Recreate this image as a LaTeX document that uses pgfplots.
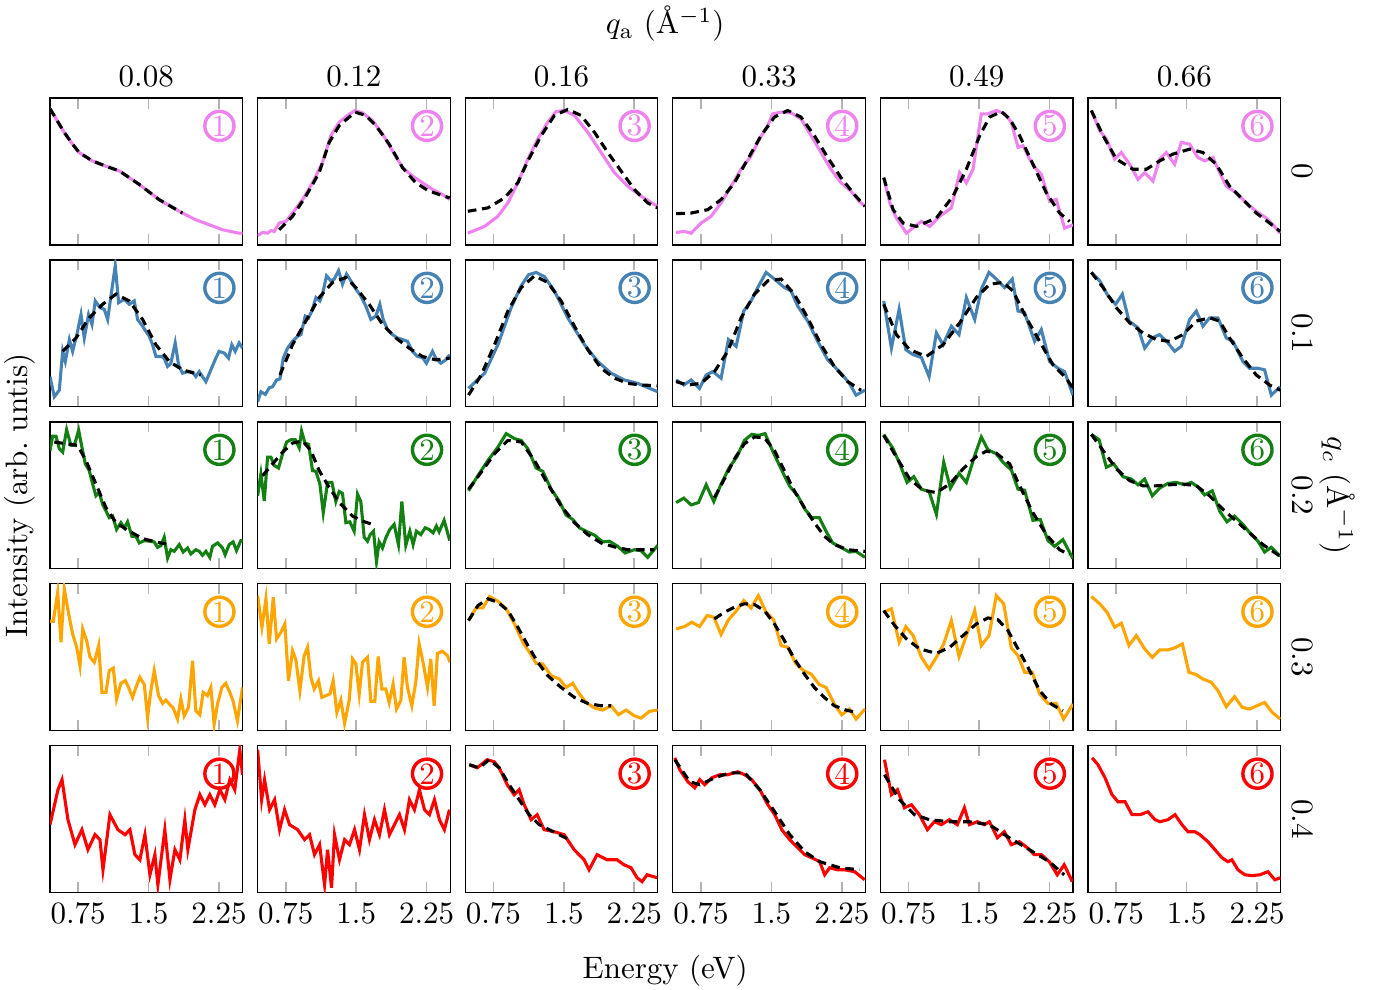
\documentclass[border=0pt]{standalone}
\usepackage{pgfplots}
\pgfplotsset{compat=1.18}
\usepgfplotslibrary{groupplots}
\definecolor{cvio}{RGB}{238,130,238}
\definecolor{cblu}{RGB}{70,130,180}
\definecolor{cgrn}{RGB}{20,128,20}
\definecolor{corg}{RGB}{255,165,0}
\definecolor{cred}{RGB}{255,0,0}
\pgfplotsset{
  dat/.style={line width=1pt},
  fitl/.style={black,line width=1pt,dash pattern=on 2.8pt off 1.8pt},
}
\newcommand{\cnum}[2]{\node[circle,draw=#1,text=#1,line width=1.1pt,minimum size=9.4pt,inner sep=0pt] at (rel axis cs:0.88,0.81) {#2};}
\begin{document}
\begin{tikzpicture}
\begin{groupplot}[
  group style={group size=6 by 5, horizontal sep=4.87pt, vertical sep=4.84pt,
    xticklabels at=edge bottom},
  scale only axis,
  width=62.1pt, height=47.4pt,
  xmin=0.45, xmax=2.5, ymin=0, ymax=100,
  xtick={0.75,1.5,2.25}, ytick=\empty,
  major tick length=3.4pt,
  tick style={gray!60,line width=0.5pt},
  axis line style={black},
  clip mode=individual,
]
% ---- row 1: q_c = 0
\nextgroupplot
\addplot[dat,cvio] coordinates {(0.45,92.7)(0.60,76.7)(0.69,68.6)(0.76,62.9)(0.90,57.2)(1.05,53.5)(1.19,50.3)(1.40,41.2)(1.61,30.9)(1.86,21.7)(2.00,17.2)(2.29,10.3)(2.46,8.0)(2.50,8.0)};
\addplot[fitl] coordinates {(0.45,92.7)(0.60,76.7)(0.69,68.6)(0.76,62.9)(0.90,57.2)(1.05,53.5)(1.19,50.3)(1.40,41.2)(1.61,30.9)(1.86,21.7)};
\cnum{cvio}{1}
\nextgroupplot
\addplot[dat,cvio] coordinates {(0.45,6.4)(0.503,8.5)(0.556,8.0)(0.592,9.8)(0.627,9.2)(0.68,14.9)(0.751,16.0)(0.822,21.7)(0.929,30.9)(1.035,42.3)(1.141,56.1)(1.23,74.4)(1.319,83.5)(1.407,88.1)(1.489,91.5)(1.567,89.9)(1.673,84.7)(1.78,75.5)(1.886,64.1)(1.993,52.6)(2.099,46.9)(2.205,42.3)(2.312,37.8)(2.418,34.3)(2.496,30.9)};
\addplot[fitl] coordinates {(0.68,10.3)(0.822,19.5)(0.964,33.2)(1.106,49.2)(1.212,69.8)(1.319,81.2)(1.489,90.4)(1.602,88.1)(1.709,81.2)(1.851,68.6)(1.993,52.6)(2.134,42.3)(2.276,36.6)(2.496,32.0)};
\cnum{cvio}{2}
\nextgroupplot
\addplot[dat,cvio] coordinates {(0.478,8.0)(0.656,12.6)(0.798,19.5)(0.904,28.6)(1.01,42.3)(1.117,58.4)(1.223,72.1)(1.329,83.5)(1.418,90.8)(1.507,91.5)(1.613,88.1)(1.755,76.7)(1.897,62.9)(2.039,49.2)(2.18,40.0)(2.322,33.2)(2.464,27.5)(2.5,26.3)};
\addplot[fitl] coordinates {(0.478,22.9)(0.691,25.2)(0.868,32.0)(1.01,42.3)(1.117,57.2)(1.259,74.4)(1.40,88.1)(1.542,92.2)(1.684,88.1)(1.826,76.7)(1.968,62.9)(2.11,50.3)(2.251,37.8)(2.393,28.6)(2.5,25.2)};
\cnum{cvio}{3}
\nextgroupplot
\addplot[dat,cvio] coordinates {(0.485,8.5)(0.574,9.2)(0.645,8.0)(0.751,14.9)(0.858,19.5)(0.964,28.6)(1.071,40.0)(1.177,51.5)(1.283,60.6)(1.372,72.1)(1.461,81.2)(1.514,89.2)(1.603,90.4)(1.709,89.9)(1.815,85.8)(1.922,74.4)(2.028,62.9)(2.134,51.5)(2.241,42.3)(2.347,36.6)(2.436,29.7)(2.496,26.3)};
\addplot[fitl] coordinates {(0.485,21.3)(0.645,21.7)(0.822,24.0)(0.964,30.9)(1.106,42.3)(1.248,58.4)(1.39,74.4)(1.532,87.0)(1.673,91.5)(1.815,87.0)(1.957,74.4)(2.099,59.5)(2.241,45.8)(2.383,34.3)(2.496,26.3)};
\cnum{cvio}{4}
\nextgroupplot
\addplot[dat,cvio] coordinates {(0.485,45.8)(0.549,28.6)(0.62,18.3)(0.727,8.0)(0.815,12.6)(0.886,16.0)(0.975,12.6)(1.081,19.5)(1.205,25.2)(1.294,49.2)(1.365,42.3)(1.436,51.5)(1.524,89.2)(1.595,89.2)(1.684,91.5)(1.773,89.2)(1.844,83.5)(1.915,66.4)(1.968,67.5)(2.039,58.4)(2.11,51.5)(2.163,48.1)(2.251,29.7)(2.322,30.9)(2.411,11.4)(2.5,13.7)};
\addplot[fitl] coordinates {(0.485,45.8)(0.585,24.0)(0.691,14.9)(0.833,12.6)(1.046,18.3)(1.223,33.2)(1.365,51.5)(1.507,74.4)(1.613,87.0)(1.737,90.8)(1.826,85.8)(1.932,74.4)(2.074,54.9)(2.216,35.5)(2.358,21.7)(2.464,16.0)};
\cnum{cvio}{5}
\nextgroupplot
\addplot[dat,cvio] coordinates {(0.485,91.5)(0.574,77.8)(0.645,72.1)(0.733,58.4)(0.804,62.9)(0.893,54.9)(0.982,44.6)(1.053,49.2)(1.141,43.5)(1.212,58.4)(1.283,62.9)(1.372,54.9)(1.443,69.8)(1.532,68.6)(1.62,59.5)(1.691,57.2)(1.78,59.5)(1.851,49.2)(1.922,40.0)(2.028,35.5)(2.134,28.6)(2.241,22.9)(2.347,18.3)(2.418,13.7)(2.496,8.0)};
\addplot[fitl] coordinates {(0.485,91.5)(0.61,74.4)(0.751,58.4)(0.929,51.5)(1.071,51.5)(1.212,57.2)(1.354,61.8)(1.532,65.2)(1.673,62.9)(1.815,54.9)(1.957,40.0)(2.099,30.9)(2.241,21.7)(2.383,14.9)(2.496,9.2)};
\cnum{cvio}{6}
% ---- row 2: q_c = 0.1
\nextgroupplot
\addplot[dat,cblu] coordinates {(0.45,20.6)(0.496,6.9)(0.549,11.4)(0.585,37.8)(0.613,30.9)(0.656,45.8)(0.691,37.8)(0.744,51.5)(0.78,62.9)(0.815,46.9)(0.861,62.9)(0.897,56.1)(0.932,72.1)(0.982,67.5)(1.028,66.4)(1.064,59.5)(1.099,75.5)(1.145,96.1)(1.181,70.9)(1.241,73.2)(1.294,69.8)(1.347,72.1)(1.383,59.5)(1.436,54.9)(1.471,51.5)(1.507,48.1)(1.542,42.3)(1.578,34.3)(1.631,34.3)(1.666,33.2)(1.702,27.5)(1.737,29.7)(1.783,43.5)(1.819,28.6)(1.861,22.9)(1.915,24.0)(1.968,23.6)(2.003,20.6)(2.039,24.0)(2.074,20.6)(2.11,17.2)(2.163,25.2)(2.216,33.2)(2.251,37.8)(2.305,36.6)(2.351,33.2)(2.386,42.3)(2.422,37.8)(2.464,43.5)(2.5,40.0)};
\addplot[fitl] coordinates {(0.585,37.8)(0.727,46.9)(0.868,60.6)(1.01,69.8)(1.152,76.7)(1.294,72.1)(1.436,59.5)(1.578,42.3)(1.72,30.9)(1.861,25.2)(2.056,21.7)};
\cnum{cblu}{1}
\nextgroupplot
\addplot[dat,cblu] coordinates {(0.45,3.4)(0.485,10.3)(0.532,8.5)(0.574,13.0)(0.61,13.7)(0.652,18.3)(0.688,19.0)(0.723,33.2)(0.769,40.0)(0.822,44.6)(0.876,48.1)(0.911,49.2)(0.957,61.8)(0.993,60.6)(1.028,65.2)(1.071,74.4)(1.113,72.1)(1.141,76.7)(1.184,89.2)(1.23,85.8)(1.266,87.0)(1.312,92.7)(1.354,83.5)(1.397,90.4)(1.443,85.8)(1.496,80.1)(1.549,75.5)(1.603,68.6)(1.656,59.5)(1.709,61.8)(1.751,69.8)(1.787,59.5)(1.833,52.6)(1.886,49.2)(1.939,46.9)(1.993,45.8)(2.046,44.6)(2.099,37.8)(2.152,34.3)(2.205,33.6)(2.248,29.7)(2.312,37.8)(2.347,33.2)(2.401,29.7)(2.454,32.0)(2.496,35.5)};
\addplot[fitl] coordinates {(0.688,21.7)(0.822,42.3)(0.964,58.4)(1.106,74.4)(1.248,84.7)(1.39,88.1)(1.496,81.2)(1.638,69.8)(1.78,56.1)(1.922,46.9)(2.063,40.0)(2.205,34.3)(2.347,32.0)(2.496,33.2)};
\cnum{cblu}{2}
\nextgroupplot
\addplot[dat,cblu] coordinates {(0.485,12.6)(0.656,22.9)(0.798,42.3)(0.939,67.5)(1.046,82.4)(1.124,89.9)(1.205,91.5)(1.294,88.6)(1.40,78.9)(1.542,60.6)(1.72,42.3)(1.861,30.9)(2.003,22.9)(2.145,18.3)(2.287,16.0)(2.5,10.3)};
\addplot[fitl] coordinates {(0.485,8.0)(0.62,21.7)(0.762,42.3)(0.904,65.2)(1.046,81.2)(1.188,89.2)(1.329,84.7)(1.471,72.1)(1.613,54.9)(1.755,38.9)(1.897,26.3)(2.039,19.5)(2.18,16.0)(2.322,14.9)(2.5,14.4)};
\cnum{cblu}{3}
\nextgroupplot
\addplot[dat,cblu] coordinates {(0.485,18.3)(0.567,14.9)(0.645,18.3)(0.734,12.6)(0.805,21.7)(0.876,24.0)(0.964,19.5)(1.042,45.8)(1.124,41.2)(1.205,65.2)(1.283,72.1)(1.354,81.2)(1.443,91.5)(1.532,87.0)(1.638,81.2)(1.709,78.9)(1.78,68.6)(1.886,58.4)(1.993,44.6)(2.099,32.0)(2.241,22.9)(2.33,16.0)(2.401,8.0)(2.496,11.4)};
\addplot[fitl] coordinates {(0.485,17.2)(0.61,14.9)(0.751,16.0)(0.893,24.0)(1.035,37.8)(1.177,60.6)(1.319,76.7)(1.461,85.8)(1.603,87.0)(1.744,76.7)(1.886,60.6)(2.028,42.3)(2.17,27.5)(2.312,17.2)(2.454,11.4)};
\cnum{cblu}{4}
\nextgroupplot
\addplot[dat,cblu] coordinates {(0.485,72.1)(0.567,40.0)(0.649,66.4)(0.72,38.9)(0.798,35.5)(0.886,33.6)(0.968,20.6)(1.046,50.3)(1.117,42.3)(1.205,54.9)(1.287,49.2)(1.365,74.4)(1.454,59.5)(1.524,80.1)(1.606,91.5)(1.684,87.0)(1.773,81.2)(1.854,87.0)(1.915,65.2)(1.985,64.1)(2.092,44.6)(2.163,52.6)(2.251,30.9)(2.34,26.3)(2.411,24.0)(2.5,8.0)};
\addplot[fitl] coordinates {(0.485,69.8)(0.62,49.2)(0.762,38.9)(0.939,34.3)(1.117,42.3)(1.294,57.2)(1.471,74.4)(1.613,83.5)(1.755,84.7)(1.861,78.9)(2.003,60.6)(2.145,44.6)(2.287,28.6)(2.429,19.5)(2.5,12.6)};
\cnum{cblu}{5}
\nextgroupplot
\addplot[dat,cblu] coordinates {(0.485,91.5)(0.574,85.8)(0.663,75.5)(0.744,69.8)(0.815,76.7)(0.886,58.4)(0.982,53.8)(1.053,40.0)(1.134,46.9)(1.212,49.2)(1.301,43.5)(1.372,37.8)(1.443,41.2)(1.532,59.5)(1.603,65.2)(1.673,54.9)(1.744,60.6)(1.833,60.6)(1.922,46.9)(1.993,44.6)(2.099,30.9)(2.17,26.3)(2.259,26.3)(2.33,25.2)(2.401,8.0)(2.496,13.7)};
\addplot[fitl] coordinates {(0.485,91.5)(0.61,81.2)(0.751,67.5)(0.893,57.2)(1.035,50.3)(1.177,45.8)(1.319,44.6)(1.461,49.2)(1.603,58.4)(1.744,60.6)(1.851,58.4)(1.957,46.9)(2.099,33.2)(2.241,21.7)(2.383,14.9)(2.496,11.4)};
\cnum{cblu}{6}
% ---- row 3: q_c = 0.2
\nextgroupplot
\addplot[dat,cgrn] coordinates {(0.45,80.5)(0.478,90.2)(0.514,90.2)(0.549,81.7)(0.585,79.4)(0.627,94.7)(0.673,84.0)(0.709,84.0)(0.755,94.3)(0.79,82.8)(0.826,71.4)(0.868,66.8)(0.904,57.7)(0.939,49.7)(0.975,51.9)(1.01,43.9)(1.046,39.4)(1.081,34.8)(1.117,35.9)(1.159,26.8)(1.205,31.4)(1.241,27.9)(1.276,32.0)(1.322,22.2)(1.365,22.2)(1.40,17.6)(1.454,19.2)(1.507,18.8)(1.56,18.3)(1.595,14.6)(1.631,15.8)(1.666,21.5)(1.702,7.3)(1.737,13.0)(1.773,11.9)(1.826,16.5)(1.868,11.4)(1.915,14.2)(1.95,10.1)(2.003,13.0)(2.039,11.9)(2.074,9.2)(2.11,11.9)(2.152,7.8)(2.18,15.3)(2.234,17.6)(2.287,14.2)(2.315,9.6)(2.358,16.5)(2.4,18.3)(2.436,12.4)(2.482,19.2)(2.5,19.2)};
\addplot[fitl] coordinates {(0.496,86.3)(0.62,85.1)(0.744,84.0)(0.833,73.7)(0.939,57.7)(1.046,41.6)(1.152,31.4)(1.294,25.6)(1.436,20.6)(1.578,18.3)(1.684,16.9)};
\cnum{cgrn}{1}
\nextgroupplot
\addplot[dat,cgrn] coordinates {(0.45,49.7)(0.485,64.5)(0.521,46.2)(0.556,76.0)(0.592,76.0)(0.627,70.3)(0.673,68.6)(0.716,78.3)(0.759,86.3)(0.805,87.9)(0.851,87.9)(0.893,82.4)(0.918,93.8)(0.954,85.6)(0.993,84.7)(1.035,66.8)(1.071,66.4)(1.113,57.7)(1.149,38.2)(1.195,58.8)(1.241,58.8)(1.283,45.8)(1.319,52.6)(1.354,51.3)(1.39,31.4)(1.432,32.0)(1.478,25.6)(1.514,50.8)(1.549,45.8)(1.585,21.5)(1.62,18.8)(1.649,23.3)(1.684,25.6)(1.716,5.0)(1.744,18.3)(1.78,14.2)(1.815,21.1)(1.858,26.8)(1.904,30.2)(1.95,16.5)(1.986,45.8)(2.028,16.0)(2.071,25.6)(2.106,16.5)(2.141,25.6)(2.188,23.3)(2.234,27.9)(2.276,26.8)(2.319,24.5)(2.354,29.1)(2.383,25.2)(2.436,33.0)(2.496,19.2)};
\addplot[fitl] coordinates {(0.503,63.4)(0.61,71.4)(0.716,79.4)(0.822,85.6)(0.929,87.0)(1.017,80.5)(1.106,66.8)(1.212,55.4)(1.319,45.1)(1.461,35.9)(1.567,32.5)(1.673,30.2)};
\cnum{cgrn}{2}
\nextgroupplot
\addplot[dat,cgrn] coordinates {(0.485,53.1)(0.585,63.4)(0.691,73.7)(0.798,82.8)(0.886,92.0)(0.975,88.6)(1.046,87.4)(1.117,81.7)(1.205,68.6)(1.276,66.4)(1.365,54.2)(1.454,45.8)(1.524,36.6)(1.595,33.6)(1.666,27.9)(1.737,25.6)(1.826,22.9)(1.915,18.3)(1.985,18.8)(2.074,15.3)(2.152,10.8)(2.251,13.0)(2.322,12.4)(2.393,7.8)(2.5,16.0)};
\addplot[fitl] coordinates {(0.485,54.2)(0.62,65.7)(0.762,78.3)(0.904,87.4)(1.046,86.3)(1.188,73.7)(1.329,57.7)(1.471,42.8)(1.613,31.4)(1.755,23.3)(1.897,17.6)(2.039,14.9)(2.18,13.0)(2.322,13.0)(2.464,13.0)};
\cnum{cgrn}{3}
\nextgroupplot
\addplot[dat,cgrn] coordinates {(0.485,45.1)(0.567,48.1)(0.645,43.5)(0.723,45.1)(0.805,57.2)(0.886,45.8)(0.964,57.7)(1.053,69.1)(1.134,76.4)(1.212,87.4)(1.29,91.5)(1.361,90.8)(1.432,92.0)(1.514,80.1)(1.603,68.0)(1.691,56.5)(1.78,49.7)(1.858,40.5)(1.929,34.8)(2.01,34.8)(2.081,25.6)(2.152,17.6)(2.241,14.6)(2.33,11.4)(2.401,11.9)(2.496,7.8)};
\addplot[fitl] coordinates {(0.893,48.5)(0.999,61.1)(1.106,74.8)(1.212,85.1)(1.319,89.7)(1.425,89.2)(1.532,80.5)(1.638,66.8)(1.744,53.1)(1.851,41.6)(1.957,31.4)(2.063,22.2)(2.17,16.5)(2.312,13.0)(2.496,11.9)};
\cnum{cgrn}{4}
\nextgroupplot
\addplot[dat,cgrn] coordinates {(0.485,91.5)(0.585,81.7)(0.656,71.4)(0.734,58.8)(0.805,62.7)(0.886,54.2)(0.968,52.6)(1.046,37.1)(1.124,72.5)(1.195,54.9)(1.287,65.0)(1.365,58.8)(1.454,77.1)(1.524,89.7)(1.595,81.0)(1.684,78.3)(1.755,72.5)(1.844,67.3)(1.915,54.2)(1.985,53.5)(2.074,33.0)(2.152,33.6)(2.234,19.2)(2.305,15.3)(2.393,19.9)(2.5,6.9)};
\addplot[fitl] coordinates {(0.485,90.8)(0.62,76.0)(0.762,61.1)(0.904,53.5)(1.046,51.9)(1.188,57.7)(1.329,68.0)(1.471,76.4)(1.578,80.1)(1.684,78.7)(1.826,71.4)(1.932,56.5)(2.074,38.2)(2.216,23.3)(2.358,13.0)(2.464,9.6)};
\cnum{cgrn}{5}
\nextgroupplot
\addplot[dat,cgrn] coordinates {(0.485,91.5)(0.567,87.9)(0.645,69.1)(0.723,71.4)(0.822,62.7)(0.911,61.1)(0.982,57.2)(1.053,61.1)(1.134,49.7)(1.212,54.9)(1.301,58.1)(1.39,58.8)(1.478,57.2)(1.549,58.8)(1.62,55.8)(1.691,50.3)(1.773,53.1)(1.851,39.4)(1.929,32.0)(2.01,35.9)(2.099,30.2)(2.188,23.3)(2.259,18.8)(2.33,11.4)(2.401,14.6)(2.496,8.5)};
\addplot[fitl] coordinates {(0.485,91.5)(0.61,80.5)(0.751,68.0)(0.893,60.0)(1.035,56.5)(1.177,56.5)(1.319,57.2)(1.461,57.7)(1.603,56.5)(1.744,49.7)(1.886,40.5)(2.028,32.5)(2.17,24.5)(2.312,16.5)(2.496,8.5)};
\cnum{cgrn}{6}
% ---- row 4: q_c = 0.3
\nextgroupplot
\addplot[dat,corg] coordinates {(0.45,74.5)(0.485,74.5)(0.532,94.3)(0.567,60.2)(0.602,96.6)(0.649,79.5)(0.691,65.9)(0.734,56.8)(0.769,44.3)(0.798,69.3)(0.84,61.4)(0.876,50.0)(0.922,46.6)(0.968,58.0)(1.003,26.1)(1.046,26.1)(1.081,40.9)(1.124,42.7)(1.159,21.6)(1.205,32.3)(1.251,34.1)(1.287,29.5)(1.329,22.7)(1.372,30.7)(1.407,36.4)(1.454,31.4)(1.489,9.1)(1.524,27.3)(1.56,40.9)(1.606,23.9)(1.649,18.6)(1.684,20.9)(1.727,17.7)(1.762,15.5)(1.808,8.0)(1.844,21.6)(1.879,10.2)(1.925,15.9)(1.968,47.7)(2.003,13.6)(2.046,10.9)(2.081,26.1)(2.127,23.9)(2.163,29.5)(2.198,4.5)(2.234,18.2)(2.28,29.5)(2.322,32.3)(2.365,26.1)(2.4,20.0)(2.446,6.8)(2.5,29.5)};
\cnum{corg}{1}
\nextgroupplot
\addplot[dat,corg] coordinates {(0.45,92.0)(0.496,70.5)(0.539,89.8)(0.574,59.1)(0.617,90.9)(0.652,62.5)(0.698,67.0)(0.74,72.7)(0.779,34.1)(0.822,54.5)(0.858,48.2)(0.9,27.3)(0.946,51.1)(0.982,56.8)(1.017,36.4)(1.053,28.4)(1.099,34.1)(1.134,22.7)(1.177,23.9)(1.22,25.0)(1.255,34.1)(1.294,12.5)(1.337,20.9)(1.376,5.0)(1.425,20.5)(1.461,48.9)(1.496,45.5)(1.532,25.0)(1.567,46.6)(1.62,50.0)(1.656,20.0)(1.698,20.0)(1.734,50.5)(1.773,28.4)(1.815,28.4)(1.851,19.3)(1.893,31.8)(1.929,14.8)(1.975,20.5)(2.01,50.0)(2.046,29.5)(2.092,17.0)(2.134,33.0)(2.17,59.1)(2.212,46.6)(2.259,29.5)(2.294,48.9)(2.33,17.0)(2.365,52.7)(2.418,54.1)(2.472,51.1)(2.5,46.6)};
\cnum{corg}{2}
\nextgroupplot
\addplot[dat,corg] coordinates {(0.485,75.0)(0.567,83.6)(0.638,83.6)(0.709,91.4)(0.798,88.2)(0.886,83.0)(0.975,72.7)(1.063,60.2)(1.134,53.4)(1.205,45.9)(1.276,45.5)(1.365,37.5)(1.454,35.2)(1.524,29.5)(1.595,32.3)(1.666,25.0)(1.737,19.3)(1.826,15.5)(1.915,14.1)(2.003,17.0)(2.081,10.9)(2.163,14.1)(2.251,10.2)(2.322,8.6)(2.411,13.2)(2.5,14.1)};
\addplot[fitl] coordinates {(0.485,75.0)(0.585,85.2)(0.691,89.8)(0.798,87.5)(0.904,81.8)(1.01,70.5)(1.117,58.0)(1.223,46.6)(1.329,37.5)(1.471,29.5)(1.613,22.7)(1.755,18.6)(1.897,17.0)(2.003,17.0)};
\cnum{corg}{3}
\nextgroupplot
\addplot[dat,corg] coordinates {(0.485,69.3)(0.574,70.9)(0.652,73.9)(0.734,70.9)(0.815,78.4)(0.886,77.3)(0.964,65.5)(1.042,75.5)(1.124,81.4)(1.205,88.6)(1.283,83.6)(1.361,92.0)(1.443,80.7)(1.524,75.5)(1.603,58.0)(1.673,56.8)(1.762,45.5)(1.844,40.9)(1.922,38.6)(2.01,31.4)(2.081,29.5)(2.17,18.2)(2.248,10.9)(2.33,14.8)(2.401,8.0)(2.496,14.8)};
\addplot[fitl] coordinates {(0.893,76.1)(0.999,80.7)(1.106,84.1)(1.212,86.4)(1.319,85.9)(1.425,81.8)(1.532,72.7)(1.638,61.4)(1.744,48.9)(1.851,38.6)(1.957,29.5)(2.063,22.7)(2.17,17.0)(2.294,14.1)(2.401,12.5)};
\cnum{corg}{4}
\nextgroupplot
\addplot[dat,corg] coordinates {(0.485,80.7)(0.567,83.0)(0.649,60.2)(0.72,70.9)(0.798,64.8)(0.886,50.0)(0.968,42.0)(1.046,50.0)(1.124,59.1)(1.205,75.0)(1.287,50.5)(1.365,64.8)(1.454,81.8)(1.524,58.0)(1.606,64.8)(1.684,92.0)(1.762,86.4)(1.844,56.4)(1.915,51.1)(1.985,39.8)(2.067,39.8)(2.145,25.0)(2.234,18.6)(2.322,18.6)(2.4,8.0)(2.5,18.2)};
\addplot[fitl] coordinates {(0.485,81.8)(0.602,71.6)(0.727,62.5)(0.868,55.7)(1.046,52.7)(1.188,56.8)(1.329,64.8)(1.471,72.7)(1.595,76.8)(1.702,75.5)(1.808,68.2)(1.915,55.7)(2.021,43.2)(2.145,27.3)(2.269,18.2)(2.393,13.6)};
\cnum{corg}{5}
\nextgroupplot
\addplot[dat,corg] coordinates {(0.485,91.4)(0.574,86.4)(0.652,80.7)(0.734,70.5)(0.805,73.2)(0.886,58.0)(0.964,64.8)(1.053,55.7)(1.134,50.0)(1.212,55.0)(1.301,55.0)(1.372,56.4)(1.454,59.1)(1.524,39.8)(1.603,38.2)(1.673,35.2)(1.762,33.0)(1.833,27.3)(1.922,16.4)(2.01,23.2)(2.092,15.9)(2.17,14.8)(2.248,17.0)(2.33,19.3)(2.411,12.5)(2.496,8.0)};
\cnum{corg}{6}
% ---- row 5: q_c = 0.4
\nextgroupplot
\addplot[dat,cred] coordinates {(0.45,46.3)(0.535,70.1)(0.578,76.9)(0.641,49.7)(0.716,32.7)(0.79,42.9)(0.854,29.3)(0.929,39.5)(0.982,36.1)(1.014,15.6)(1.088,53.1)(1.173,42.9)(1.248,39.5)(1.301,42.9)(1.354,25.9)(1.407,22.4)(1.461,39.5)(1.514,12.2)(1.567,25.9)(1.599,5.4)(1.673,42.9)(1.727,8.8)(1.78,29.3)(1.833,22.4)(1.886,49.7)(1.918,29.3)(1.993,56.5)(2.046,66.7)(2.099,59.9)(2.152,66.7)(2.205,59.9)(2.259,70.1)(2.312,63.3)(2.365,76.9)(2.418,70.1)(2.471,97.3)(2.5,80.3)};
\cnum{cred}{1}
\nextgroupplot
\addplot[dat,cred] coordinates {(0.45,97.3)(0.493,63.3)(0.524,76.9)(0.578,56.5)(0.631,63.3)(0.684,42.9)(0.737,56.5)(0.79,46.3)(0.876,42.9)(0.95,36.1)(1.003,39.5)(1.056,25.9)(1.11,32.7)(1.163,5.4)(1.195,29.3)(1.237,3.4)(1.269,39.5)(1.322,22.4)(1.376,36.1)(1.429,32.7)(1.482,42.9)(1.535,29.3)(1.588,53.1)(1.641,36.1)(1.694,49.7)(1.748,39.5)(1.801,56.5)(1.854,39.5)(1.907,46.3)(1.961,53.1)(2.014,42.9)(2.067,63.3)(2.12,56.5)(2.173,70.1)(2.227,56.5)(2.28,53.1)(2.333,63.3)(2.386,49.7)(2.439,42.9)(2.493,56.5)};
\cnum{cred}{2}
\nextgroupplot
\addplot[dat,cred] coordinates {(0.493,87.1)(0.578,85.0)(0.684,90.5)(0.759,89.1)(0.812,85.0)(0.897,73.5)(0.971,66.7)(1.024,70.1)(1.078,59.9)(1.152,49.7)(1.216,53.1)(1.29,42.9)(1.397,41.5)(1.503,39.5)(1.61,29.3)(1.716,22.4)(1.769,15.6)(1.854,25.9)(1.961,22.4)(2.067,22.4)(2.141,19.0)(2.216,17.0)(2.28,10.2)(2.333,7.5)(2.386,12.2)(2.493,10.2)};
\addplot[fitl] coordinates {(0.493,87.1)(0.599,85.0)(0.705,90.5)(0.812,85.0)(0.918,73.5)(1.024,63.3)(1.131,53.1)(1.237,46.3)(1.344,42.9)(1.45,39.5)(1.556,36.1)};
\cnum{cred}{3}
\nextgroupplot
\addplot[dat,cred] coordinates {(0.471,91.8)(0.524,83.7)(0.61,75.5)(0.684,71.4)(0.737,76.9)(0.79,73.5)(0.865,78.2)(0.95,80.3)(1.035,80.3)(1.141,82.3)(1.216,80.3)(1.29,76.9)(1.376,70.1)(1.461,59.9)(1.535,53.1)(1.61,42.9)(1.695,36.1)(1.78,30.6)(1.854,25.9)(1.929,23.8)(2.014,21.1)(2.067,12.2)(2.12,17.0)(2.205,15.6)(2.28,15.6)(2.386,14.3)(2.493,8.8)};
\addplot[fitl] coordinates {(0.471,90.5)(0.631,75.5)(0.737,73.5)(0.897,78.2)(1.056,81.6)(1.216,81.6)(1.376,70.1)(1.535,55.1)(1.695,39.5)(1.854,27.9)(2.014,21.1)(2.227,17.0)(2.439,15.6)};
\cnum{cred}{4}
\nextgroupplot
\addplot[dat,cred] coordinates {(0.493,90.5)(0.567,66.7)(0.631,70.1)(0.705,57.8)(0.78,59.9)(0.865,53.1)(0.95,42.9)(1.024,48.3)(1.099,46.3)(1.184,49.7)(1.269,46.3)(1.344,57.8)(1.397,46.3)(1.482,48.3)(1.556,46.3)(1.61,48.3)(1.695,37.4)(1.769,41.5)(1.844,32.7)(1.929,34.7)(2.014,30.6)(2.088,25.9)(2.163,25.9)(2.248,21.1)(2.333,12.2)(2.407,19.0)(2.493,7.5)};
\addplot[fitl] coordinates {(0.493,80.3)(0.652,63.3)(0.812,53.1)(0.971,49.7)(1.184,48.3)(1.397,48.3)(1.61,46.3)(1.822,37.4)(2.035,29.3)(2.248,21.1)(2.407,12.2)};
\cnum{cred}{5}
\nextgroupplot
\addplot[dat,cred] coordinates {(0.493,91.8)(0.556,87.1)(0.631,78.2)(0.705,66.7)(0.769,61.9)(0.844,61.9)(0.918,53.1)(1.003,53.1)(1.088,55.1)(1.163,49.7)(1.216,48.3)(1.301,49.7)(1.376,53.1)(1.45,46.3)(1.514,41.5)(1.588,41.5)(1.641,39.5)(1.727,34.7)(1.801,29.3)(1.876,23.8)(1.939,21.1)(1.982,22.4)(2.046,15.6)(2.12,12.2)(2.195,11.6)(2.28,12.2)(2.365,14.3)(2.439,8.8)(2.5,10.2)};
\cnum{cred}{6}
\end{groupplot}
% column labels
\foreach \c/\v in {1/0.08,2/0.12,3/0.16,4/0.33,5/0.49,6/0.66}
  \node[anchor=south,inner sep=0pt] at ([yshift=3.2pt]group c\c r1.north) {\v};
% row labels
\foreach \r/\v in {1/0,2/0.1,3/0.2,4/0.3,5/0.4}
  \node[rotate=-90,anchor=south,inner sep=0pt] at ([xshift=3.5pt]group c6r\r.east) {\v};
\node[anchor=south,inner sep=0pt] at ([xshift=2.4pt,yshift=18pt]group c3r1.north east) {$q_\mathrm{a}$ (\AA$^{-1}$)};
\node[anchor=north,inner sep=0pt] at ([xshift=2.4pt,yshift=-20pt]group c3r5.south east) {Energy (eV)};
\node[rotate=90,anchor=south,inner sep=0pt] at ([xshift=-4.5pt]group c1r3.west) {Intensity (arb.\ untis)};
\node[rotate=-90,anchor=south,inner sep=0pt] at ([xshift=12.5pt]group c6r3.east) {$q_c$ (\AA$^{-1}$)};
\pgfresetboundingbox
\path[use as bounding box] ([xshift=-16.13pt,yshift=31.61pt]group c1r1.north west) rectangle ++(450.97pt,-319.35pt);
\end{tikzpicture}
\end{document}
